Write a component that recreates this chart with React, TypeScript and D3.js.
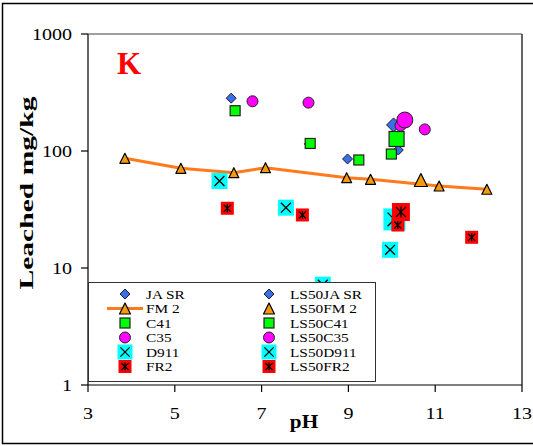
import React from "react";
import * as d3 from "d3";

// ---- data (pH, leached K mg/kg) ----
const jaSrPH = [6.3, 8.1, 8.98, 10.15];
const jaSrVal = [283, 115, 85.5, 102];
const ls50JaSrPH = [10.04];
const ls50JaSrVal = [167];

const fm2PH = [3.85, 5.14, 6.36, 7.09, 8.96, 9.51, 11.09, 12.19];
const fm2Val = [86.6, 71.1, 65.3, 72.0, 59.1, 57.3, 50.2, 47.1];
const ls50Fm2PH = [10.67];
const ls50Fm2Val = [56.5];

const c41PH = [6.39, 8.12, 9.24, 9.99];
const c41Val = [221, 116, 83.8, 94.2];
const ls50C41PH = [10.11];
const ls50C41Val = [126.7];

const c35PH = [6.79, 8.08, 10.2, 10.76];
const c35Val = [266, 259, 165, 153];
const ls50C35PH = [10.3];
const ls50C35Val = [184];

const d911PH = [6.03, 7.56, 9.96, 8.41];
const d911Val = [55.4, 32.8, 14.3, 7.2];
const ls50D911PH = [10.06];
const ls50D911Val = [26];

const fr2PH = [6.21, 7.94, 10.14, 11.84];
const fr2Val = [32.4, 28.4, 23.3, 18.3];
const ls50Fr2PH = [10.21];
const ls50Fr2Val = [30.1];

const xTicks = [3, 5, 7, 9, 11, 13];
const yTicks = [1, 10, 100, 1000];

const legendLeft = ["JA SR", "FM 2", "C41", "C35", "D911", "FR2"];
const legendRight = ["LS50JA SR", "LS50FM 2", "LS50C41", "LS50C35", "LS50D911", "LS50FR2"];
const markerKinds = ["diamond", "triangle", "square", "circle", "xbox", "starbox"];

const COL = {
  blue: "#3b6fe3",
  orange: "#f59a10",
  line: "#ff7a1c",
  green: "#00ff00",
  magenta: "#ff00ff",
  cyan: "#00ffff",
  red: "#ff0000",
};

const FONT = "'Liberation Serif', 'Times New Roman', serif";
const SX = 1.18;

const x = d3.scaleLinear().domain([3, 13]).range([88, 522]);
const y = d3.scaleLog().domain([1, 1000]).range([385, 34]);

function Marker({ kind, cx, cy, s }: { kind: string; cx: number; cy: number; s: number }) {
  const h = s / 2;
  if (kind === "diamond") {
    return (
      <path
        d={`M${cx},${cy - h}L${cx + h},${cy}L${cx},${cy + h}L${cx - h},${cy}Z`}
        fill={COL.blue}
        stroke="#1a1a40"
        strokeWidth={1}
      />
    );
  }
  if (kind === "triangle") {
    return (
      <path
        d={`M${cx},${cy - h}L${cx + h},${cy + h}L${cx - h},${cy + h}Z`}
        fill={COL.orange}
        stroke="#000"
        strokeWidth={1.2}
        strokeLinejoin="round"
      />
    );
  }
  if (kind === "square") {
    return <rect x={cx - h} y={cy - h} width={s} height={s} fill={COL.green} stroke="#222" strokeWidth={1.2} />;
  }
  if (kind === "circle") {
    return <circle cx={cx} cy={cy} r={h} fill={COL.magenta} stroke="#222" strokeWidth={1} />;
  }
  if (kind === "xbox") {
    const k = h * 0.62;
    return (
      <g>
        <rect x={cx - h} y={cy - h} width={s} height={s} fill={COL.cyan} />
        <path d={`M${cx - k},${cy - k}L${cx + k},${cy + k}M${cx - k},${cy + k}L${cx + k},${cy - k}`} stroke="#000" strokeWidth={1.3} />
      </g>
    );
  }
  // starbox
  const k = h * 0.55;
  return (
    <g>
      <rect x={cx - h} y={cy - h} width={s} height={s} fill={COL.red} />
      <path
        d={`M${cx - k},${cy - k}L${cx + k},${cy + k}M${cx - k},${cy + k}L${cx + k},${cy - k}M${cx},${cy - k * 1.1}L${cx},${cy + k * 1.1}`}
        stroke="#000"
        strokeWidth={1.3}
      />
    </g>
  );
}

function Series({ xs, ys, kind, s }: { xs: number[]; ys: number[]; kind: string; s: number }) {
  return (
    <g>
      {xs.map((v, i) => (
        <Marker key={i} kind={kind} cx={x(v)} cy={y(ys[i])} s={s} />
      ))}
    </g>
  );
}

function T({
  x: tx,
  y: ty,
  size,
  anchor = "start",
  weight = "normal",
  sx = SX,
  fill = "#000",
  children,
}: {
  x: number;
  y: number;
  size: number;
  anchor?: string;
  weight?: string;
  sx?: number;
  fill?: string;
  children: React.ReactNode;
}) {
  return (
    <text
      transform={`translate(${tx},${ty}) scale(${sx},1)`}
      fontFamily={FONT}
      fontSize={size}
      fontWeight={weight}
      textAnchor={anchor as any}
      fill={fill}
    >
      {children}
    </text>
  );
}

export default function App() {
  const line = d3
    .line<number>()
    .x((d) => x(d))
    .y((_, i) => y(fm2Val[i]));

  const legendY0 = 294;
  const legendStep = 14.5;
  const legendSizes = [10, 11, 10, 11, 15, 13];

  return (
    <div style={{ position: "absolute", left: 0, top: 0 }}>
      <svg width={533} height={446} style={{ display: "block", background: "#fff" }}>
        {/* outer frame */}
        <rect x={2.5} y={3.5} width={560} height={440} fill="#fff" stroke="#000" strokeWidth={1.5} />

        {/* plot area borders */}
        <line x1={88} x2={522} y1={34} y2={34} stroke="#808080" strokeWidth={1.5} />
        <line x1={522} x2={522} y1={34} y2={385} stroke="#333" strokeWidth={1.5} />

        {/* axes */}
        <line x1={88} x2={88} y1={34} y2={385} stroke="#000" strokeWidth={1.2} />
        <line x1={88} x2={522} y1={385} y2={385} stroke="#000" strokeWidth={1.2} />
        {yTicks.map((t) => (
          <g key={t}>
            <line x1={81} x2={88} y1={y(t)} y2={y(t)} stroke="#000" strokeWidth={1.2} />
            <T x={72} y={y(t) + 5.5} size={17} anchor="end">
              {t}
            </T>
          </g>
        ))}
        {xTicks.map((t) => (
          <g key={t}>
            <line x1={x(t)} x2={x(t)} y1={385} y2={392} stroke="#000" strokeWidth={1.2} />
            <T x={x(t)} y={419} size={17} anchor="middle">
              {t}
            </T>
          </g>
        ))}

        {/* axis titles */}
        <T x={304} y={428} size={18} anchor="middle" weight="bold">
          pH
        </T>
        <text
          transform={`translate(33,193) rotate(-90)`}
          fontFamily={FONT}
          fontSize={19}
          fontWeight="bold"
          textAnchor="middle"
          textLength={193}
          lengthAdjust="spacingAndGlyphs"
        >
          Leached mg/kg
        </text>

        {/* panel letter */}
        <T x={117} y={74} size={31} weight="bold" sx={1} fill="#ff0000">
          K
        </T>

        {/* FM2 line */}
        <path d={line(fm2PH) || ""} fill="none" stroke={COL.line} strokeWidth={3} />

        {/* markers */}
        <Series xs={jaSrPH} ys={jaSrVal} kind="diamond" s={10} />
        <Series xs={ls50JaSrPH} ys={ls50JaSrVal} kind="diamond" s={14} />
        <Series xs={fm2PH} ys={fm2Val} kind="triangle" s={10} />
        <Series xs={ls50Fm2PH} ys={ls50Fm2Val} kind="triangle" s={13} />
        <Series xs={c41PH} ys={c41Val} kind="square" s={10} />
        <Series xs={ls50C41PH} ys={ls50C41Val} kind="square" s={15} />
        <Series xs={c35PH} ys={c35Val} kind="circle" s={11} />
        <Series xs={ls50C35PH} ys={ls50C35Val} kind="circle" s={16} />
        <Series xs={d911PH} ys={d911Val} kind="xbox" s={16} />
        <Series xs={ls50D911PH} ys={ls50D911Val} kind="xbox" s={22} />
        <Series xs={fr2PH} ys={fr2Val} kind="starbox" s={13} />
        <Series xs={ls50Fr2PH} ys={ls50Fr2Val} kind="starbox" s={18} />

        {/* legend */}
        <rect x={88.5} y={282.5} width={287} height={99} fill="#fff" stroke="#333" strokeWidth={1} />
        <line x1={107} x2={143} y1={legendY0 + legendStep} y2={legendY0 + legendStep} stroke={COL.line} strokeWidth={3} />
        {markerKinds.map((k, i) => {
          const ly = legendY0 + i * legendStep;
          return (
            <g key={k}>
              <Marker kind={k} cx={125} cy={ly} s={legendSizes[i]} />
              <T x={146} y={ly + 4.5} size={13}>
                {legendLeft[i]}
              </T>
              <Marker kind={k} cx={269} cy={ly} s={legendSizes[i]} />
              <T x={290} y={ly + 4.5} size={13}>
                {legendRight[i]}
              </T>
            </g>
          );
        })}
      </svg>
    </div>
  );
}
